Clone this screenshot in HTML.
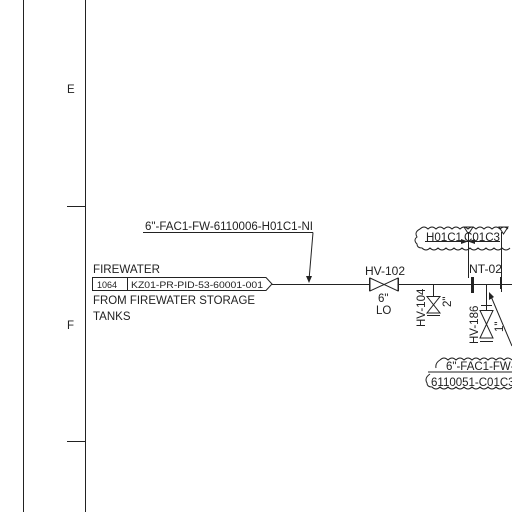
<!DOCTYPE html>
<html><head><style>
body{margin:0;background:#fff;}
svg{display:block;font-family:"Liberation Sans",sans-serif;}
</style></head><body>
<svg width="512" height="512" viewBox="0 0 512 512" xmlns="http://www.w3.org/2000/svg">
<g stroke="#222" fill="none" stroke-width="1">
<line x1="23.5" y1="0" x2="23.5" y2="512"/>
<line x1="85.5" y1="0" x2="85.5" y2="512"/>
<line x1="67" y1="206.5" x2="85" y2="206.5"/>
<line x1="67" y1="441.5" x2="85" y2="441.5"/>
<path d="M92.5 277.5 H266 L272 284 L266 290.5 H92.5 Z"/>
<line x1="127.5" y1="277.5" x2="127.5" y2="290.5"/>
<line x1="272" y1="284.5" x2="369" y2="284.5"/>
<line x1="398" y1="284.5" x2="512" y2="284.5"/>
<line x1="143" y1="232.5" x2="313" y2="232.5"/>
<line x1="313" y1="232.5" x2="309" y2="280"/>
<path d="M369.5 278 V291 M398.5 278 V291 M370 278 L398 291 V278 L370 291 Z"/>
<line x1="433.5" y1="284" x2="433.5" y2="296"/>
<path d="M427 296.5 H440 L427 313 H440 Z M427 315.5 H440"/>
<line x1="468.5" y1="232" x2="468.5" y2="278"/>
<line x1="501.5" y1="232" x2="501.5" y2="292"/>
<line x1="486.5" y1="284" x2="486.5" y2="310"/>
<line x1="481" y1="305.5" x2="492" y2="305.5"/>
<path d="M480 310.5 H493 L480 338 H493 Z M480 341.5 H493"/>
<line x1="512" y1="346" x2="490" y2="294"/>
<path d="M420 229 q4-4 8 0 q4-4 8 0 q4-4 8 0 q4-4 8 0 q4-4 8 0 q4-4 8 0 q4-4 8 0 q4-4 8 0 q4-4 8 0 q4-4 8 0 q4-4 8 0 M420 229 q-6 3 -3 8 q-4 3 0 7 q0 4 5 4 q4 4 8 0 q4 4 8 0 q4 4 8 0 q4 4 8 0 q4 4 8 0 q4 4 8 0 q4 4 8 0 q4 4 8 0 q4 4 8 0 q4 4 8 0 q4 4 8 0"/>
<path d="M440 360 q4-4 8 0 q4-4 8 0 q4-4 8 0 q4-4 8 0 q4-4 8 0 q4-4 8 0 q4-4 8 0 q4-4 8 0 q4-4 8 0 M440 360 q-5 3 -4 8 M430 374 q-6 4 -3 9 q0 4 5 4 q4 4 8 0 q4 4 8 0 q4 4 8 0 q4 4 8 0 q4 4 8 0 q4 4 8 0 q4 4 8 0 q4 4 8 0 q4 4 8 0 q4 4 8 0 M428 372 H512"/>
<path d="M464 227 H473 L468.5 234 Z M499 227 H508 L503.5 234 Z"/>
<line x1="425" y1="241.5" x2="500" y2="241.5"/>
</g>
<g fill="#222" stroke="none">
<rect x="471" y="277" width="3" height="16"/>
<rect x="500" y="277" width="2" height="12"/>
<path d="M309 283 L306 276 L312 276 Z"/>
<path d="M489 292 L489 300 L494 297 Z"/>
<path d="M468 241.5 L461 239 L461 244 Z M468 241.5 L475 239 L475 244 Z"/>
</g>
<g fill="#222" font-size="11.5">
<text x="67" y="93">E</text>
<text x="67" y="329">F</text>
<text x="93" y="273" textLength="67" lengthAdjust="spacingAndGlyphs">FIREWATER</text>
<text x="97" y="288" font-size="9">1064</text>
<text x="131" y="288" font-size="9" textLength="132" lengthAdjust="spacingAndGlyphs">KZ01-PR-PID-53-60001-001</text>
<text x="93" y="304" textLength="162" lengthAdjust="spacingAndGlyphs">FROM FIREWATER STORAGE</text>
<text x="93" y="320">TANKS</text>
<text x="145" y="230" textLength="168" lengthAdjust="spacingAndGlyphs">6"-FAC1-FW-6110006-H01C1-NI</text>
<text x="365" y="275" textLength="40" lengthAdjust="spacingAndGlyphs">HV-102</text>
<text x="378" y="302">6"</text>
<text x="376" y="314">LO</text>
<text x="469" y="273" textLength="33" lengthAdjust="spacingAndGlyphs">NT-02</text>
<text x="426" y="241" textLength="36" lengthAdjust="spacingAndGlyphs">H01C1</text>
<text x="464" y="241" textLength="36" lengthAdjust="spacingAndGlyphs">C01C3</text>
<text x="446" y="370">6"-FAC1-FW-</text>
<text x="431" y="386">6110051-C01C3</text>
<text transform="translate(425,327) rotate(-90)">HV-104</text>
<text transform="translate(451,307) rotate(-90)">2"</text>
<text transform="translate(478,344) rotate(-90)">HV-186</text>
<text transform="translate(503,332) rotate(-90)">1"</text>
</g>
</svg>
</body></html>
